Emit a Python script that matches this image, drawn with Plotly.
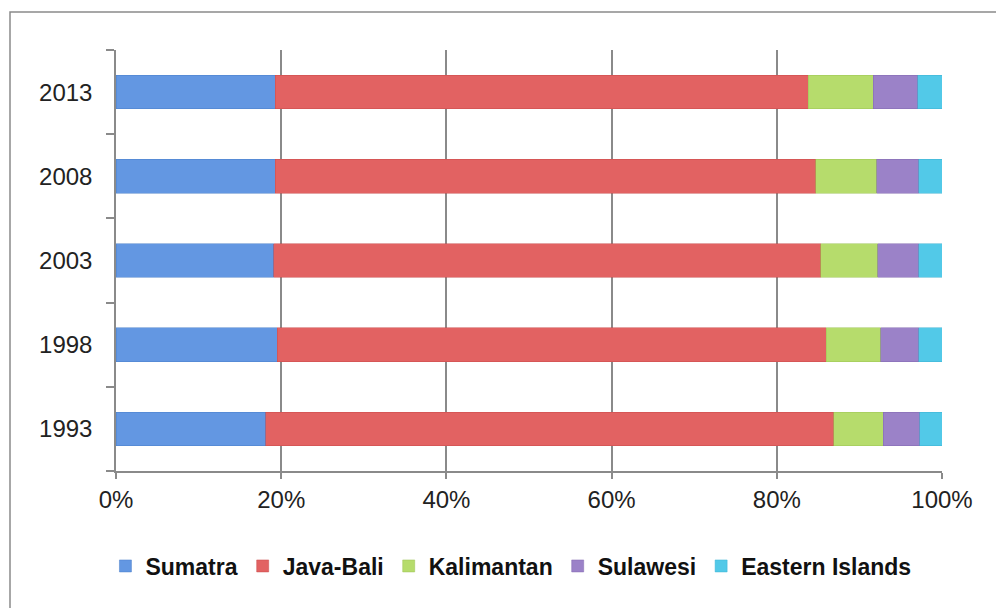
import plotly.graph_objects as go

years = ["1993", "1998", "2003", "2008", "2013"]
regions = ["Sumatra", "Java-Bali", "Kalimantan", "Sulawesi", "Eastern Islands"]
sumatra = [18.1, 19.5, 19.1, 19.3, 19.3]
java_bali = [68.8, 66.5, 66.2, 65.4, 64.5]
kalimantan = [6.0, 6.6, 6.9, 7.4, 7.9]
sulawesi = [4.4, 4.6, 5.0, 5.1, 5.35]
eastern = [2.7, 2.8, 2.8, 2.8, 2.95]
series = [sumatra, java_bali, kalimantan, sulawesi, eastern]
colors = ["#6397E2", "#E26262", "#B6DC6C", "#9B82C8", "#52C9E8"]
lines = ["#4A7FC9", "#C94A4A", "#9CC354", "#8268B0", "#3BB2D2"]

fig = go.Figure()
for name, vals, c, lc in zip(regions, series, colors, lines):
    fig.add_trace(go.Bar(
        y=years, x=vals, name=name, orientation="h",
        marker=dict(color=c, line=dict(color=lc, width=0.5)),
    ))

fig.update_layout(
    barmode="stack",
    barnorm="percent",
    bargap=0.6,
    width=996, height=608,
    margin=dict(l=116, r=54, t=50, b=137, autoexpand=False),
    paper_bgcolor="white",
    plot_bgcolor="white",
    font=dict(family="Liberation Sans, Arial, sans-serif", size=24, color="#222222"),
    showlegend=True,
    legend=dict(
        orientation="h", xref="container", yref="container",
        x=0.513, xanchor="center", y=(608 - 566) / 608, yanchor="middle",
        font=dict(family="Liberation Sans, Arial, sans-serif", size=23, color="#111111", weight="bold"),
        traceorder="normal", itemwidth=30, tracegroupgap=0,
    ),
    xaxis=dict(
        range=[0, 100], tickvals=[0, 20, 40, 60, 80, 100],
        ticktext=["0%", "20%", "40%", "60%", "80%", "100%"],
        showgrid=True, gridcolor="#8A8A8A", gridwidth=1.5,
        showline=True, linecolor="#8A8A8A", linewidth=1.5,
        ticks="outside", ticklen=6, tickcolor="#8A8A8A", tickwidth=1.5,
        zeroline=False, fixedrange=True,
    ),
    yaxis=dict(
        showgrid=False, showline=True, linecolor="#8A8A8A", linewidth=1.5,
        ticks="outside", ticklen=8, tickcolor="#8A8A8A", tickwidth=1.5,
        tickson="boundaries", ticklabelstandoff=17,
        fixedrange=True,
    ),
)

# outer chart border (left and top edges visible)
fig.add_shape(type="rect", xref="paper", yref="paper",
              x0=(10 - 116) / 826, x1=1.2, y0=-0.5, y1=(471 - 12) / 421,
              line=dict(color="#8A8A8A", width=1.5), layer="below")

fig.write_html("out.html")
